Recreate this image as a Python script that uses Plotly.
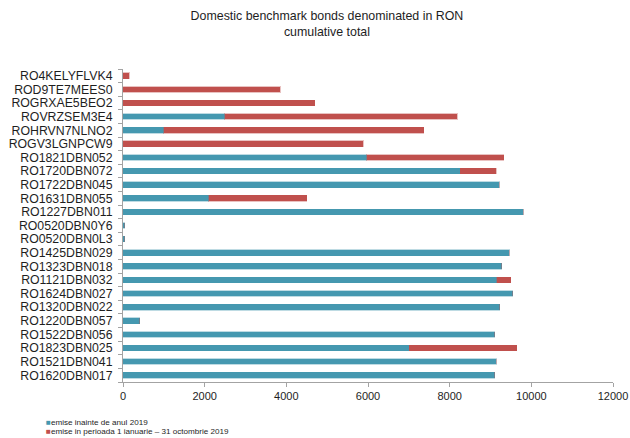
import plotly.graph_objects as go

# Bond codes, listed top to bottom
bonds = [
    "RO4KELYFLVK4", "ROD9TE7MEES0", "ROGRXAE5BEO2", "ROVRZSEM3E4", "ROHRVN7NLNO2",
    "ROGV3LGNPCW9", "RO1821DBN052", "RO1720DBN072", "RO1722DBN045", "RO1631DBN055",
    "RO1227DBN011", "RO0520DBN0Y6", "RO0520DBN0L3", "RO1425DBN029", "RO1323DBN018",
    "RO1121DBN032", "RO1624DBN027", "RO1320DBN022", "RO1220DBN057", "RO1522DBN056",
    "RO1823DBN025", "RO1521DBN041", "RO1620DBN017",
]

# Outstanding amount issued before 2019
issued_before_2019 = [
    0, 0, 0, 2490, 1000,
    0, 5975, 8255, 9210, 2105,
    9800, 40, 40, 9455, 9280,
    9150, 9550, 9225, 410, 9110,
    7005, 9135, 9110,
]

# Amount issued between 1 January and 31 October 2019
issued_2019 = [
    155, 3845, 4700, 5690, 6370,
    5880, 3355, 880, 0, 2400,
    0, 0, 0, 0, 0,
    345, 0, 0, 0, 0,
    2635, 0, 0,
]

series_names = [
    "emise inainte de anul 2019",
    "emise in perioada 1 ianuarie – 31 octombrie 2019",
]
x_ticks = [0, 2000, 4000, 6000, 8000, 10000, 12000]

TEAL = "#4598b0"
RED = "#c0504d"
FONT = "Liberation Sans, Arial, sans-serif"
TEXT = "#1e1e1e"
AXIS = "#a3a3a3"

fig = go.Figure()
fig.add_trace(go.Bar(
    y=bonds, x=issued_before_2019, orientation="h", name=series_names[0],
    width=0.42, marker=dict(color=TEAL, line=dict(color="rgba(69,152,176,0.35)", width=1)),
))
fig.add_trace(go.Bar(
    y=bonds, x=issued_2019, orientation="h", name=series_names[1],
    width=0.42, marker=dict(color=RED, line=dict(color="rgba(192,80,77,0.35)", width=1)),
))

# Legend entries as colored squares followed by the series name
for i, (name, col) in enumerate(zip(series_names, [TEAL, RED])):
    fig.add_annotation(
        xref="paper", yref="paper", x=-0.159, y=-0.1294 - i * 0.0303,
        xanchor="left", yanchor="middle", showarrow=False, borderpad=0,
        text=f"<span style='color:{col}'>■</span>{name}",
        font=dict(family=FONT, size=8.1, color=TEXT),
    )

fig.update_layout(
    width=630, height=438,
    margin=dict(l=123, r=17, t=69, b=56, pad=0, autoexpand=False),
    barmode="stack", bargap=0.58,
    plot_bgcolor="white", paper_bgcolor="white",
    showlegend=False,
    font=dict(family=FONT, color=TEXT),
    title=dict(
        text="Domestic benchmark bonds denominated in RON<br>cumulative total",
        x=0.519, xanchor="center", xref="container",
        y=0.955, yanchor="top", yref="container",
        font=dict(family=FONT, size=12.4, color=TEXT),
    ),
    xaxis=dict(
        range=[0, 12000], tickvals=x_ticks, ticktext=[str(v) for v in x_ticks],
        automargin=False,
        showgrid=False, zeroline=False, showline=True, linecolor=AXIS, linewidth=1,
        ticks="outside", ticklen=4, tickcolor=AXIS,
        tickfont=dict(family=FONT, size=11, color=TEXT),
    ),
    yaxis=dict(
        categoryorder="array", categoryarray=bonds, autorange="reversed",
        tickmode="array", tickvals=bonds, ticktext=bonds, automargin=False,
        showgrid=False, zeroline=False, showline=True, linecolor=AXIS, linewidth=1,
        ticks="outside", ticklen=4, tickcolor=AXIS, tickson="boundaries",
        ticklabelstandoff=7,
        tickfont=dict(family=FONT, size=12.3, color=TEXT),
    ),
)

fig.write_html("out.html")
